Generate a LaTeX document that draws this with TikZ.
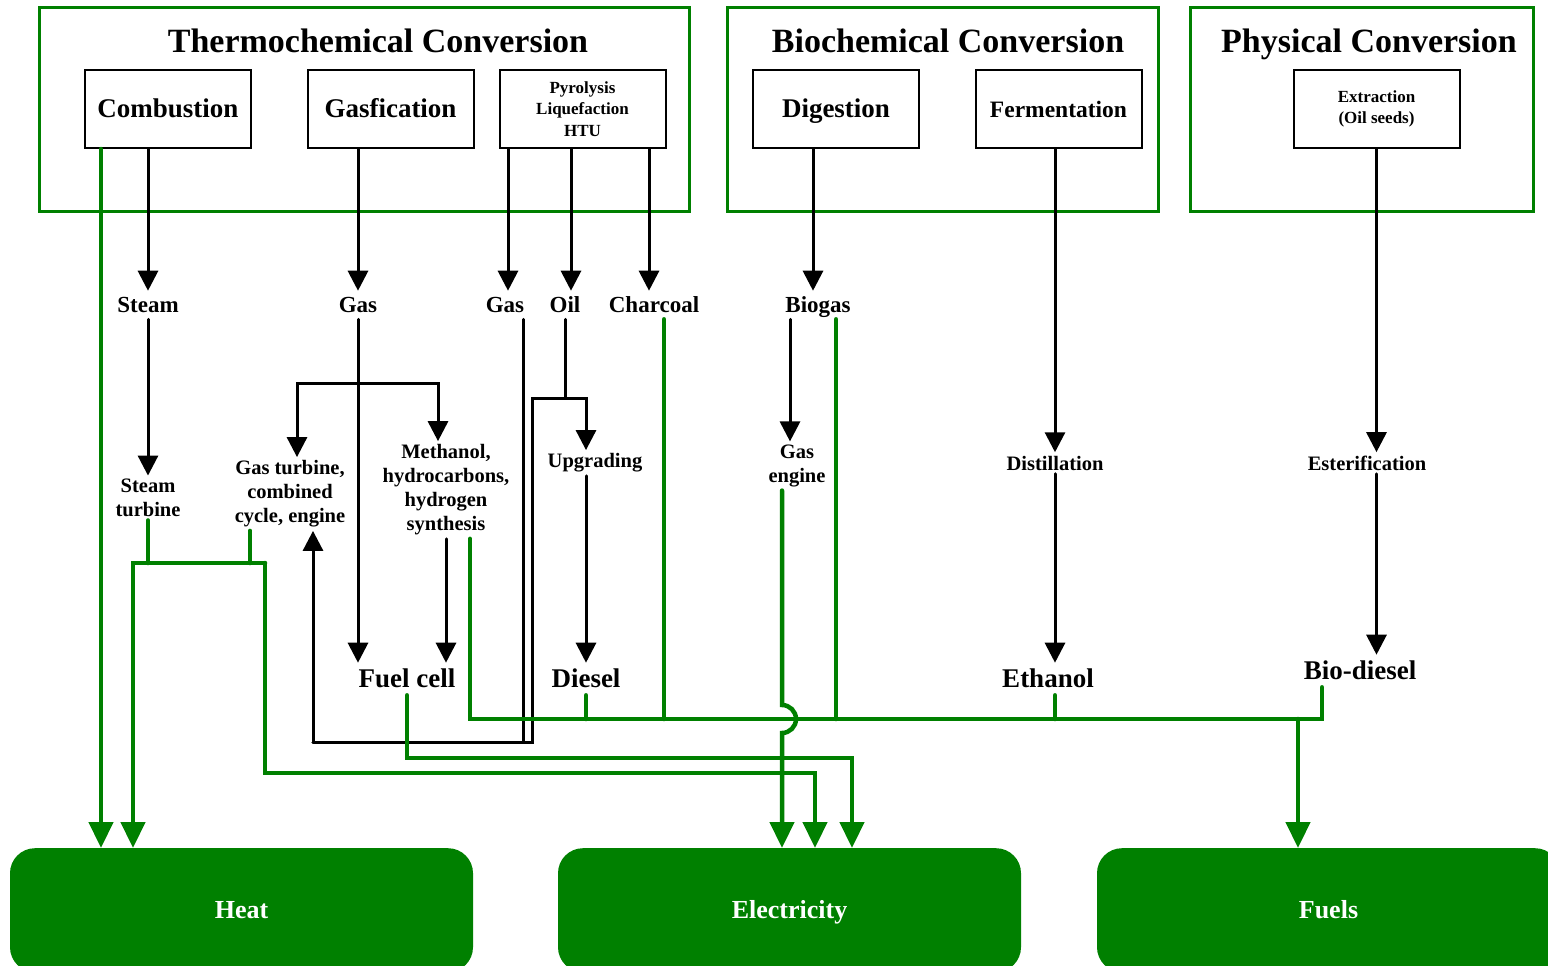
\documentclass[tikz,border=0pt]{standalone}
\usepackage{fontspec}
\setmainfont{Liberation Serif}
\usetikzlibrary{arrows.meta}

\definecolor{flowgreen}{RGB}{0,128,0}

\tikzset{
  convgroup/.style={draw=flowgreen, line width=3pt},
  grouptitle/.style={font=\fontsize{34}{36}\selectfont\bfseries, text height=27pt, text depth=5pt},
  procbox/.style={draw, line width=2pt, minimum width=166pt, minimum height=78pt, align=center},
  lblbig/.style={font=\fontsize{27}{29}\selectfont\bfseries, align=center, text height=21pt, text depth=4.5pt},
  lblmid/.style={font=\fontsize{23}{25}\selectfont\bfseries, align=center, text height=18pt, text depth=3.5pt},
  lblsmall/.style={font=\fontsize{20.5}{24}\selectfont\bfseries, align=center},
  lbltiny/.style={font=\fontsize{17}{21.5}\selectfont\bfseries, align=center},
  sink/.style={fill=flowgreen, text=white, rounded corners=25pt, minimum width=463pt, minimum height=124pt, anchor=north, font=\fontsize{26}{28}\selectfont\bfseries, text height=20.5pt, text depth=4.5pt},
  flow/.style={line width=3pt, line cap=round, -{Triangle[length=20pt,width=20pt]}},
  link/.style={line width=3pt, line cap=round},
  gline/.style={draw=flowgreen, line width=4.5pt, line cap=round},
  gflow/.style={gline, -{Triangle[length=26pt,width=24pt]}},
}

\begin{document}
\begin{tikzpicture}[x=1pt, y=-1pt]
\useasboundingbox (0,0) rectangle (1548,966);
\clip (0,0) rectangle (1548,966);

\node[convgroup, minimum width=650pt, minimum height=203pt] (thermo) at (364,109.5) {};
\node[convgroup, minimum width=431pt, minimum height=203pt] (bio) at (942.5,109.5) {};
\node[convgroup, minimum width=343pt, minimum height=203pt] (phys) at (1361.5,109.5) {};
\node[grouptitle] (thermot) at (378,42) {Thermochemical Conversion};
\node[grouptitle] (biot) at (948,42) {Biochemical Conversion};
\node[grouptitle] (physt) at (1369,42) {Physical Conversion};

\node[procbox, lblbig] (comb) at (168,109) {Combustion};
\node[procbox, lblbig] (gasf) at (390.5,109) {Gasfication};
\node[procbox, lbltiny] (pyro) at (582.5,109) {Pyrolysis\\Liquefaction\\HTU};
\node[procbox, lblbig] (dig) at (836,109) {Digestion};
\node[procbox, lblbig, font=\fontsize{23.5}{25}\selectfont\bfseries] (ferm) at (1058.5,109) {Fermentation};
\node[procbox, lbltiny] (extr) at (1376.5,109) {Extraction\\(Oil seeds)};

\node[lblmid] (steam) at (148,305) {Steam};
\node[lblmid] (gas1) at (358,305) {Gas};
\node[lblmid] (gas2) at (505,305) {Gas};
\node[lblmid] (oil) at (565,305) {Oil};
\node[lblmid] (charcoal) at (654,305) {Charcoal};
\node[lblmid] (biogas) at (818,305) {Biogas};

\node[lblsmall] (stturb) at (148,498) {Steam\\turbine};
\node[lblsmall] (gtcc) at (290,494) {Gas turbine,\\combined\\cycle, engine};
\node[lblsmall] (meth) at (446,490) {Methanol,\\hydrocarbons,\\hydrogen\\synthesis};
\node[lblsmall] (upgr) at (595,463) {Upgrading};
\node[lblsmall] (gaseng) at (797,466) {Gas\\engine};
\node[lblsmall] (dist) at (1055,463) {Distillation};
\node[lblsmall] (ester) at (1367,463) {Esterification};

\node[lblbig] (fuelcell) at (407,679) {Fuel cell};
\node[lblbig] (diesel) at (586,679) {Diesel};
\node[lblbig] (ethanol) at (1048,679) {Ethanol};
\node[lblbig] (biodiesel) at (1360,671) {Bio-diesel};

\node[sink] (heat) at (241.5,848) {Heat};
\node[sink] (elec) at (789.5,848) {Electricity};
\node[sink] (fuels) at (1328.5,848) {Fuels};

\coordinate (gsplit) at (358,383);
\coordinate (osplit) at (565,398);
\coordinate (gtback) at (313,742);
\coordinate (oilback) at (532,742);
\coordinate (tbusl) at (133,563);
\coordinate (tbusr) at (265,563);
\coordinate (tbelec) at (815,773);
\coordinate (fcelec) at (852,758);
\coordinate (busl) at (470,719);
\coordinate (busr) at (1322,719);
\coordinate (busout) at (1298,719);
\coordinate (jumptop) at (782,705);

\draw[flow] (comb.south -| steam) -- (steam.north);
\draw[flow] (gasf.south -| gas1) -- (gas1.north);
\draw[flow] ([xshift=3pt]gas2.north |- pyro.south) -- ([xshift=3pt]gas2.north);
\draw[flow] ([xshift=6pt]oil.north |- pyro.south) -- ([xshift=6pt]oil.north);
\draw[flow] ([xshift=-5pt]charcoal.north |- pyro.south) -- ([xshift=-5pt]charcoal.north);
\draw[flow] ([xshift=-5pt]biogas.north |- dig.south) -- ([xshift=-5pt]biogas.north);
\draw[flow] (ferm.south -| dist) -- (dist.north);
\draw[flow] (extr.south) -- (extr.south |- ester.north);

\draw[flow] (steam.south) -- (stturb.north);
\draw[flow] (gas1.south) -- (gas1.south |- fuelcell.north);
\draw[flow] (gsplit) -| ([xshift=7pt]gtcc.north);
\draw[flow] (gsplit) -| ([xshift=-8pt]meth.north);
\draw[flow] (meth.south) -- (meth.south |- fuelcell.north);
\draw[link] ([xshift=18pt]gas2.south) |- (gtback);
\draw[flow] (gtback) -- (gtback |- gtcc.south);
\draw[link] (oil.south) -- (osplit);
\draw[flow] (osplit) -| ([xshift=-9pt]upgr.north);
\draw[link] (osplit) -| (oilback) -- (gtback);
\draw[flow] (upgr.south -| diesel) -- (diesel.north);
\draw[flow] ([xshift=-7pt]gaseng.north |- biogas.south) -- ([xshift=-7pt]gaseng.north);
\draw[flow] (dist.south) -- (dist.south |- ethanol.north);
\draw[flow] (ester.south -| extr.south) -- (extr.south |- biodiesel.north);

\draw[gflow] ([xshift=-67pt]comb.south) -- ([xshift=-67pt]comb.south |- heat.north);
\draw[gline] (stturb.south) -- (stturb.south |- tbusl);
\draw[gline] ([xshift=-40pt]gtcc.south) -- ([xshift=-40pt]gtcc.south |- tbusl);
\draw[gflow] (tbusr) -- (tbusl) -- (tbusl |- heat.north);
\draw[gflow] (tbusr) |- (tbelec) -- (tbelec |- elec.north);
\draw[gflow] (fuelcell.south) |- (fcelec) -- (fcelec |- elec.north);
\draw[gline] ([xshift=24pt]meth.south) -- (busl) -- (busr) -- (busr |- biodiesel.south);
\draw[gline] (diesel.south) -- (diesel.south |- busl);
\draw[gline] ([xshift=10pt]charcoal.south) -- ([xshift=10pt]charcoal.south |- busl);
\draw[gline] ([xshift=18pt]biogas.south) -- ([xshift=18pt]biogas.south |- busl);
\draw[gline] ([xshift=7pt]ethanol.south) -- ([xshift=7pt]ethanol.south |- busl);
\draw[gflow] (busout) -- (busout |- fuels.north);
\draw[gflow] (jumptop |- gaseng.south) -- (jumptop) arc[start angle=90, end angle=-90, radius=14pt] -- (jumptop |- elec.north);
\end{tikzpicture}
\end{document}
